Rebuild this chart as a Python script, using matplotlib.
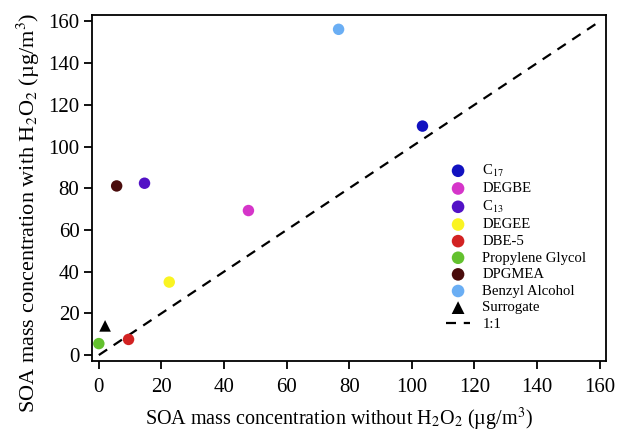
import matplotlib
matplotlib.use('Agg')
import matplotlib.pyplot as plt

# SOA mass concentration (ug/m3): without H2O2 vs with H2O2
species = ['C$_{17}$', 'DEGBE', 'C$_{13}$', 'DEGEE', 'DBE-5',
           'Propylene Glycol', 'DPGMEA', 'Benzyl Alcohol']
soa_without = [103.4, 47.8, 14.6, 22.5, 9.5, 0.0, 5.7, 76.6]
soa_with = [109.8, 69.3, 82.4, 35.0, 7.5, 5.5, 81.1, 156.2]
colors = ['#1111c0', '#d535c9', '#5211c6', '#faf422', '#d22222',
          '#63c12e', '#4a0c0c', '#6aaef4']

surrogate_without = [2.0]
surrogate_with = [14.0]

one_to_one = [0, 160]
ticks = [0, 20, 40, 60, 80, 100, 120, 140, 160]

plt.rcParams.update({
    'font.family': 'Liberation Serif',
    'mathtext.fontset': 'stix',
    'font.size': 15,
    'axes.linewidth': 1.3,
    'xtick.major.width': 1.3,
    'ytick.major.width': 1.3,
    'xtick.major.size': 6,
    'ytick.major.size': 6,
})

fig = plt.figure(figsize=(6.17, 4.33), dpi=100)
ax = fig.add_axes([0.149, 0.166, 0.833, 0.800])

for name, x, y, c in zip(species, soa_without, soa_with, colors):
    ax.scatter(x, y, s=68, color=c, edgecolors='none', label=name, zorder=3)
ax.scatter(surrogate_without, surrogate_with, s=70, marker='^', color='black',
           edgecolors='none', label='Surrogate', zorder=3)
ax.plot(one_to_one, one_to_one, color='black', lw=1.6, ls=(0, (4.5, 3.5)),
        label='1:1', zorder=2)

ax.set_xlim(-2.2, 162)
ax.set_ylim(-2.9, 163.2)
ax.set_xticks(ticks)
ax.set_yticks(ticks)
ax.tick_params(axis='x', labelsize=15, pad=6)
ax.tick_params(axis='y', labelsize=15, pad=3)

ax.set_xlabel('SOA mass concentration without H$_2$O$_2$ (µg/m$^3$)',
              fontsize=14.5)
ax.set_ylabel('SOA mass concentration with H$_2$O$_2$ (µg/m$^3$)',
              fontsize=16)
ax.xaxis.set_label_coords(0.4815, -0.128)
ax.yaxis.set_label_coords(-0.098, 0.428)

ax.legend(loc='upper left', bbox_to_anchor=(0.678, 0.59), frameon=False,
          fontsize=10.6, handlelength=1.6, handletextpad=0.85,
          labelspacing=0.225, borderaxespad=0, markerscale=1.1)

fig.savefig('out.png', dpi=100)
